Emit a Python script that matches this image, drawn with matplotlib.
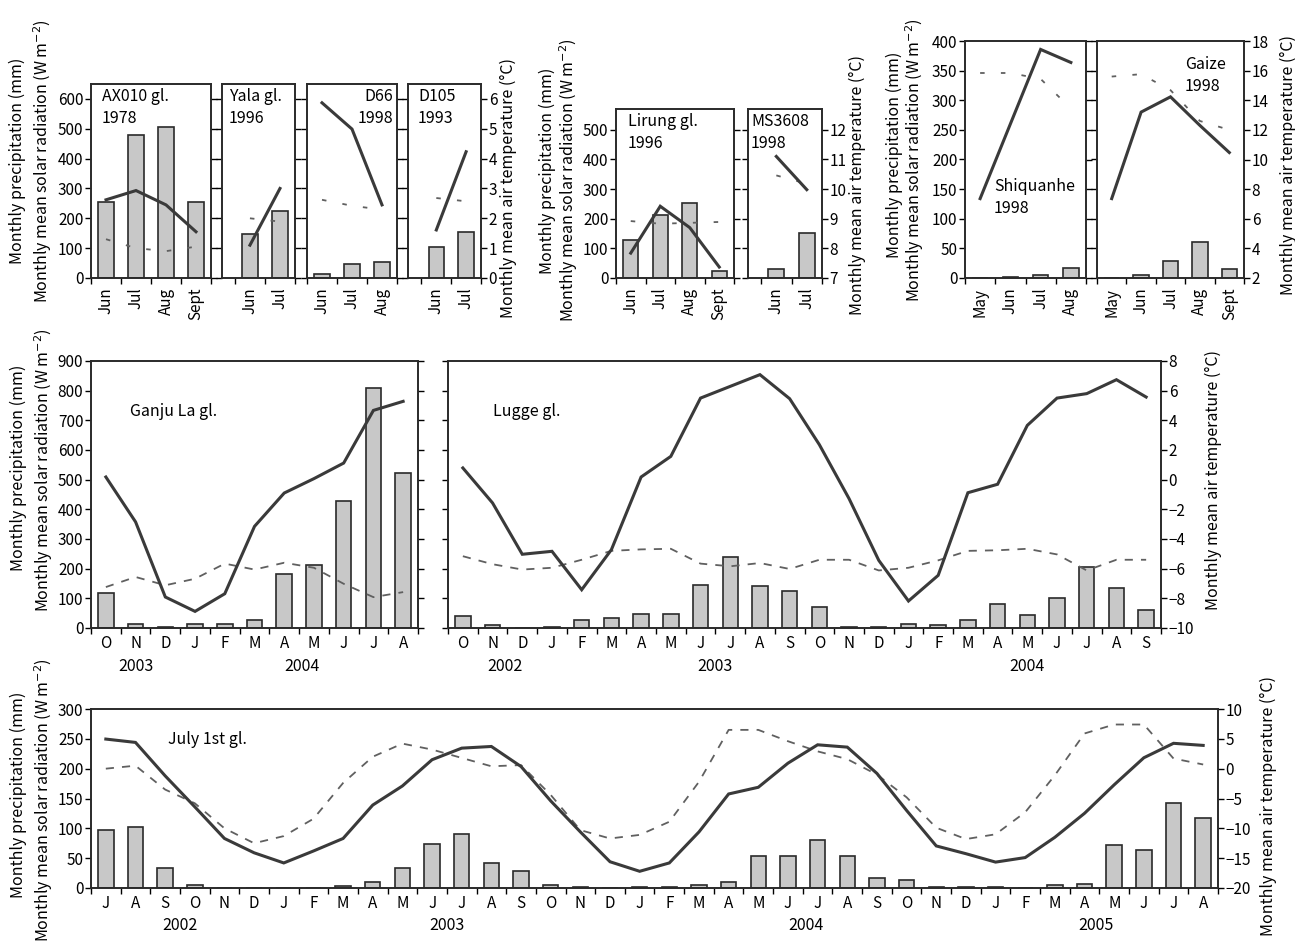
import numpy as np
import matplotlib
matplotlib.use("Agg")
import matplotlib.pyplot as plt

plt.rcParams['font.family'] = ['Noto Sans CJK JP', 'DejaVu Sans']
plt.rcParams['font.size'] = 11.5
plt.rcParams['xtick.labelsize'] = 11
plt.rcParams['ytick.labelsize'] = 11

W, H = 1295, 950

# ---- top row, short campaigns (precip mm, radiation W m-2, temperature degC)
ax010_months = ["Jun", "Jul", "Aug", "Sept"]
ax010_precip = [255, 480, 505, 255]
ax010_rad = [130, 100, 90, 105]
ax010_temp = [2.62, 2.93, 2.45, 1.55]

yala_months = ["Jun", "Jul"]
yala_precip = [147, 223]
yala_rad = [200, 189]
yala_temp = [1.1, 3.0]

d66_months = ["Jun", "Jul", "Aug"]
d66_precip = [12, 48, 52]
d66_rad = [262, 242, 229]
d66_temp = [5.87, 4.99, 2.45]

d105_months = ["Jun", "Jul"]
d105_precip = [104, 153]
d105_rad = [268, 257]
d105_temp = [1.61, 4.23]

lirung_months = ["Jun", "Jul", "Aug", "Sept"]
lirung_precip = [129, 211, 253, 24]
lirung_rad = [192, 183, 186, 189]
lirung_temp = [7.84, 9.42, 8.7, 7.37]

ms_months = ["Jun", "Jul"]
ms_precip = [29, 153]
ms_rad = [346, 318]
ms_temp = [11.1, 9.98]

shiq_months = ["May", "Jun", "Jul", "Aug"]
shiq_precip = [0, 2, 5.6, 17]
shiq_rad = [346, 346, 336, 286]
shiq_temp = [7.36, 12.4, 17.43, 16.55]

gaize_months = ["May", "Jun", "Jul", "Aug", "Sept"]
gaize_precip = [0, 5.6, 28, 61, 16]
gaize_rad = [340, 344, 317, 265, 250]
gaize_temp = [7.36, 13.2, 14.23, 12.3, 10.47]

# ---- middle row
ganju_months = list("ONDJFMAMJJA")
ganju_precip = [118, 12, 4, 15, 12, 26, 182, 212, 428, 808, 522]
ganju_rad = [138, 172, 144, 166, 217, 197, 220, 203, 149, 104, 121]
ganju_temp = [0.18, -2.85, -7.91, -8.88, -7.69, -3.15, -0.9, 0.07, 1.12, 4.67, 5.28]

lugge_months = list("ONDJFMAMJJASONDJFMAMJJAS")
lugge_precip = [39, 10, 0, 4, 26, 33, 48, 46, 144, 239, 140, 126,
                70, 3, 4, 13, 9, 26, 80, 43, 101, 204, 134, 60]
lugge_rad = [242, 215, 197, 203, 230, 260, 265, 267, 217, 208, 219, 199,
             230, 230, 194, 203, 228, 260, 262, 267, 248, 194, 230, 230]
lugge_temp = [0.79, -1.57, -5.03, -4.83, -7.42, -4.72, 0.18, 1.57, 5.5, 6.29, 7.08, 5.46,
              2.36, -1.28, -5.44, -8.18, -6.45, -0.88, -0.31, 3.66, 5.5, 5.8, 6.74, 5.57]

# ---- bottom row
july_months = list("JASOND" + "JFMAMJJASOND" + "JFMAMJJASOND" + "JFMAMJJA")
july_precip = [97, 103, 34, 5.6, 0, 0,
               0, 0.5, 3, 9.5, 33, 73, 91, 42, 29, 5.6, 1, 0,
               1, 1, 5.6, 9.5, 54, 54, 80, 54, 16, 14, 1, 1,
               1, 0, 5.6, 7, 72, 64, 142, 118]
july_rad = [200, 205, 165, 142, 100, 75,
            87, 116, 176, 220, 242, 232, 218, 204, 206, 156, 97, 83,
            89, 111, 178, 265, 265, 246, 229, 216, 190, 152, 101, 82,
            90, 127, 189, 259, 274, 274, 217, 207]
july_temp = [4.96, 4.4, -1.2, -6.4, -11.7, -14.1,
             -15.8, -13.8, -11.7, -6.1, -2.9, 1.5, 3.44, 3.72, 0.36, -5.4, -10.6, -15.6,
             -17.2, -15.8, -10.6, -4.24, -3.12, 0.92, 4.0, 3.61, -0.8, -7.0, -12.95, -14.25,
             -15.66, -14.9, -11.5, -7.48, -2.7, 1.83, 4.25, 3.9]

LAB1 = "Monthly precipitation (mm)"
LAB2 = "Monthly mean solar radiation (W m$^{-2}$)"
LABT = "Monthly mean air temperature (°C)"

EDGE = "#2a2a2a"

fig = plt.figure(figsize=(W / 100, H / 100), dpi=100)


def rect(x0, x1, y0, y1):
    return [x0 / W, 1 - y1 / H, (x1 - x0) / W, (y1 - y0) / H]


def ftext(x, y, s, **kw):
    fig.text(x / W, 1 - y / H, s, **kw)


def panel(box, months, precip, rad, temp, ylim, tlim, xlim, yticks, tticks,
          lab_left=False, lab_right=False, rotate=False, dashes=(4.5, 4.5)):
    ax = fig.add_axes(rect(*box))
    x = np.arange(len(months))
    ax.bar(x, precip, width=0.52, color="#c8c8c8", edgecolor=EDGE,
           linewidth=1.2, zorder=2)
    ax.plot(x, rad, color="#606060", lw=1.3, dashes=dashes, zorder=3)
    ax.set_xlim(xlim)
    ax.set_ylim(ylim)
    ax.set_yticks(yticks)
    ax.set_xticks(x)
    ax.set_xticklabels(months, rotation=90 if rotate else 0)
    ax.set_xticks(np.arange(-0.5, len(months)), minor=True)
    ax.tick_params(axis="x", which="major", length=0, pad=7 if rotate else 5)
    ax.tick_params(axis="x", which="minor", length=4, direction="out", width=1)
    ax.tick_params(axis="y", direction="out", length=4, width=1, pad=1.5,
                   labelleft=lab_left)
    tx = ax.twinx()
    tx.plot(x, temp, color="#3a3a3a", lw=2.2, solid_joinstyle="miter")
    tx.set_ylim(tlim)
    tx.set_yticks(tticks)
    tx.tick_params(axis="y", direction="out", length=4, width=1, pad=1.5,
                   labelright=lab_right)
    for a in (ax, tx):
        for s in a.spines.values():
            s.set_linewidth(1.2)
            s.set_color(EDGE)
    return ax, tx


def years(ax, pos, labels, off):
    for p, s in zip(pos, labels):
        ax.annotate(s, xy=(p, 0), xycoords=ax.get_xaxis_transform(),
                    xytext=(0, -off), textcoords="offset points",
                    ha="center", va="center")


# top row
top_y = np.arange(0, 601, 100)
top_t = np.arange(0, 7)
sparse = (2.5, 9)
panel((91, 211, 84, 278), ax010_months, ax010_precip, ax010_rad, ax010_temp,
      (0, 650), (0, 6.5), (-0.5, 3.5), top_y, top_t, lab_left=True, rotate=True, dashes=sparse)
panel((222, 295, 84, 278), yala_months, yala_precip, yala_rad, yala_temp,
      (0, 650), (0, 6.5), (-0.93, 1.5), top_y, top_t, rotate=True, dashes=sparse)
panel((307, 397, 84, 278), d66_months, d66_precip, d66_rad, d66_temp,
      (0, 650), (0, 6.5), (-0.5, 2.5), top_y, top_t, rotate=True, dashes=sparse)
panel((408, 481, 84, 278), d105_months, d105_precip, d105_rad, d105_temp,
      (0, 650), (0, 6.5), (-0.95, 1.5), top_y, top_t, lab_right=True, rotate=True, dashes=sparse)

mid_y = np.arange(0, 501, 100)
mid_t = np.arange(7, 13)
panel((616, 734, 109, 278), lirung_months, lirung_precip, lirung_rad, lirung_temp,
      (0, 570), (7, 12.7), (-0.5, 3.5), mid_y, mid_t, lab_left=True, rotate=True, dashes=sparse)
panel((748, 822, 109, 278), ms_months, ms_precip, ms_rad, ms_temp,
      (0, 570), (7, 12.7), (-0.93, 1.5), mid_y, mid_t, lab_right=True, rotate=True, dashes=sparse)

ti_y = np.arange(0, 401, 50)
ti_t = np.arange(2, 19, 2)
panel((965, 1086, 41, 278), shiq_months, shiq_precip, shiq_rad, shiq_temp,
      (0, 400), (2, 18), (-0.5, 3.5), ti_y, ti_t, lab_left=True, rotate=True, dashes=sparse)
panel((1097, 1244, 41, 278), gaize_months, gaize_precip, gaize_rad, gaize_temp,
      (0, 400), (2, 18), (-0.5, 4.5), ti_y, ti_t, lab_right=True, rotate=True, dashes=sparse)

# middle row
gy = np.arange(0, 901, 100)
gt = np.arange(-10, 9, 2)
ax_g, _ = panel((91, 418, 361, 628), ganju_months, ganju_precip, ganju_rad, ganju_temp,
                (0, 900), (-10, 8), (-0.5, 10.5), gy, gt, lab_left=True)
years(ax_g, [1.0, 6.6], ["2003", "2004"], 28)
ax_l, _ = panel((448, 1161, 361, 628), lugge_months, lugge_precip, lugge_rad, lugge_temp,
                (0, 900), (-10, 8), (-0.5, 23.5), gy, gt, lab_right=True)
years(ax_l, [1.4, 8.5, 19.0], ["2002", "2003", "2004"], 28)

# bottom row
ax_j, _ = panel((91, 1218, 709, 888), july_months, july_precip, july_rad, july_temp,
                (0, 300), (-20, 10), (-0.5, 37.5), np.arange(0, 301, 50),
                np.arange(-20, 11, 5), lab_left=True, lab_right=True)
years(ax_j, [2.5, 11.5, 23.6, 33.4], ["2002", "2003", "2004", "2005"], 27)

# axis titles
rot = dict(rotation=90, ha="center", va="center")
ftext(17, 161, LAB1, **rot)
ftext(43, 161, LAB2, **rot)
ftext(508, 188, LABT, **rot)
ftext(547, 171, LAB1, **rot)
ftext(569, 180, LAB2, **rot)
ftext(857, 185, LABT, **rot)
ftext(894, 155, LAB1, **rot)
ftext(915, 160, LAB2, **rot)
ftext(1288, 165, LABT, **rot)
ftext(18, 468, LAB1, **rot)
ftext(44, 470, LAB2, **rot)
ftext(1213, 480, LABT, **rot)
ftext(18, 795, LAB1, **rot)
ftext(44, 800, LAB2, **rot)
ftext(1268, 806, LABT, **rot)

# glacier / station names
ftext(102, 88, "AX010 gl.\n1978", va="top", linespacing=1.4)
ftext(229, 88, "Yala gl.\n1996", va="top", linespacing=1.4)
ftext(393, 88, "D66\n1998", va="top", ha="right", multialignment="right", linespacing=1.4)
ftext(418, 88, "D105\n1993", va="top", linespacing=1.4)
ftext(628, 113, "Lirung gl.\n1996", va="top", linespacing=1.4)
ftext(751, 113, "MS3608\n1998", va="top", linespacing=1.4)
ftext(994, 178, "Shiquanhe\n1998", va="top", linespacing=1.4)
ftext(1185, 56, "Gaize\n1998", va="top", linespacing=1.4)
ftext(130, 411, "Ganju La gl.", va="center")
ftext(493, 411, "Lugge gl.", va="center")
ftext(168, 740, "July 1st gl.", va="center")

fig.savefig("out.png", dpi=100)
